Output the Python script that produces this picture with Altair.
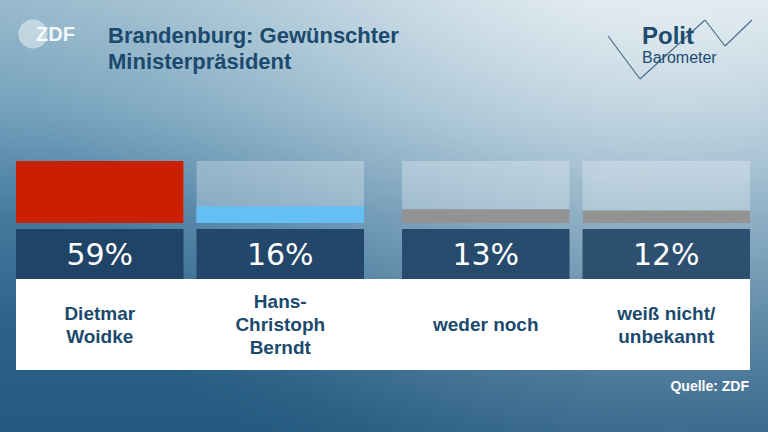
import altair as alt
import pandas as pd

# Umfragewerte: gewünschter Ministerpräsident in Brandenburg
categories = ["Dietmar Woidke", "Hans-Christoph Berndt", "weder noch", "weiß nicht/unbekannt"]
label_lines = ["Dietmar\nWoidke", "Hans-\nChristoph\nBerndt", "weder noch", "weiß nicht/\nunbekannt"]
values = [59, 16, 13, 12]
groups = ["Kandidat", "Kandidat", "Sonstige", "Sonstige"]

title_lines = ["Brandenburg: Gewünschter", "Ministerpräsident"]
source_text = "Quelle: ZDF"

# Stil und Layout
W, H = 768, 432
bar_colors = ["#cc1f00", "#66bff2", "#939393", "#939393"]
box_colors = ["#1f4467", "#22476a", "#274b6d", "#2d5071"]
text_blue = "#1b4a6e"
left, col_w, gap, group_gap = 16, 167.5, 13, 25
bar_top, bar_bottom = 161, 223
label_center, label_lh = 325, 23

df = pd.DataFrame({"Kategorie": categories, "Label": label_lines,
                   "Wert": values, "Gruppe": groups})
idx = pd.Series(range(len(df)))
extra = (df["Gruppe"] != df["Gruppe"].iloc[0]).astype(int) * group_gap
df["x0"] = left + idx * (col_w + gap) + extra
df["x1"] = df["x0"] + col_w
df["xc"] = (df["x0"] + df["x1"]) / 2
df["Prozent"] = df["Wert"].astype(str) + "%"
df["Voll"] = max(values)
n_lines = df["Label"].str.count("\n") + 1
df["ly"] = label_center - (n_lines - 1) / 2 * label_lh

xs = alt.Scale(domain=[0, W], range=[0, W], nice=False, zero=False)
ys = alt.Scale(domain=[0, max(values)], range=[bar_bottom, bar_top], nice=False)
pix_y = alt.Scale(domain=[0, H], range=[0, H], nice=False, zero=False)
one = pd.DataFrame({"k": [0]})

bg = alt.Chart(one).mark_rect(
    color=alt.Gradient(
        gradient="linear", x1=0, y1=0, x2=0, y2=1,
        stops=[alt.GradientStop(offset=0, color="#97b9cc"),
               alt.GradientStop(offset=0.25, color="#74a1bc"),
               alt.GradientStop(offset=0.5, color="#457a9f"),
               alt.GradientStop(offset=0.75, color="#2d6389"),
               alt.GradientStop(offset=1, color="#245a80")])
).encode(x=alt.value(0), x2=alt.value(W), y=alt.value(0), y2=alt.value(H))

glow = alt.Chart(one).mark_rect(
    color=alt.RadialGradient(
        gradient="radial", x1=0.88, y1=-0.05, r1=0, x2=0.88, y2=-0.05, r2=1.0,
        stops=[alt.GradientStop(offset=0, color="rgba(240,244,247,0.97)"),
               alt.GradientStop(offset=0.3, color="rgba(236,242,245,0.85)"),
               alt.GradientStop(offset=0.55, color="rgba(220,232,238,0.5)"),
               alt.GradientStop(offset=0.78, color="rgba(200,218,228,0.2)"),
               alt.GradientStop(offset=0.92, color="rgba(200,218,228,0.04)"),
               alt.GradientStop(offset=1, color="rgba(200,218,228,0)")])
).encode(x=alt.value(0), x2=alt.value(W), y=alt.value(0), y2=alt.value(H))

base = alt.Chart(df)

track = base.mark_rect(color="white", opacity=0.28).encode(
    x=alt.X("x0:Q", scale=xs, axis=None), x2="x1:Q",
    y=alt.Y("Voll:Q", scale=ys, axis=None), y2=alt.datum(0))

bars = base.mark_rect().encode(
    x=alt.X("x0:Q", scale=xs, axis=None), x2="x1:Q",
    y=alt.Y("Wert:Q", scale=ys, axis=None), y2=alt.datum(0),
    color=alt.Color("Kategorie:N", scale=alt.Scale(domain=categories, range=bar_colors), legend=None))

bars_layer = alt.layer(track, bars)

boxes = base.mark_rect().encode(
    x=alt.X("x0:Q", scale=xs, axis=None), x2="x1:Q",
    y=alt.value(229), y2=alt.value(279),
    fill=alt.Fill("Kategorie:N", scale=alt.Scale(domain=categories, range=box_colors), legend=None))

pct = base.mark_text(font="DejaVu Sans", fontSize=30, color="white",
                     align="center", baseline="alphabetic").encode(
    x=alt.X("xc:Q", scale=xs, axis=None), y=alt.value(265), text="Prozent:N")

band = alt.Chart(one).mark_rect(color="white").encode(
    x=alt.value(16), x2=alt.value(750), y=alt.value(279), y2=alt.value(370))

names = base.mark_text(font="Liberation Sans", fontSize=19, fontWeight="bold", color=text_blue,
                       align="center", baseline="middle", lineBreak="\n", lineHeight=label_lh).encode(
    x=alt.X("xc:Q", scale=xs, axis=None),
    y=alt.Y("ly:Q", scale=pix_y, axis=None), text="Label:N")

title1 = alt.Chart(one).mark_text(text=title_lines[0], font="Liberation Sans", fontSize=22, fontWeight="bold",
                                  color=text_blue, align="left", baseline="alphabetic").encode(
    x=alt.value(108), y=alt.value(43))
title2 = alt.Chart(one).mark_text(text=title_lines[1], font="Liberation Sans", fontSize=22, fontWeight="bold",
                                  color=text_blue, align="left", baseline="alphabetic").encode(
    x=alt.value(108), y=alt.value(69))

source = alt.Chart(one).mark_text(text=source_text, font="Liberation Sans", fontSize=14, fontWeight="bold",
                                  color="white", align="right", baseline="alphabetic").encode(
    x=alt.value(749), y=alt.value(391))

# ZDF-Logo
zdf_circle = alt.Chart(one).mark_circle(color="white", opacity=0.45, size=855).encode(
    x=alt.value(33), y=alt.value(34))
zdf_text = alt.Chart(one).mark_text(text="ZDF", font="Liberation Sans", fontSize=20, fontWeight="bold",
                                    color="white", opacity=0.9, align="left", baseline="alphabetic").encode(
    x=alt.value(36), y=alt.value(41))

# Politbarometer-Logo
zigzag = [(608, 36), (640, 79), (705, 20), (725, 46), (752, 20)]
logo_lines = []
for (xa, ya), (xb, yb) in zip(zigzag[:-1], zigzag[1:]):
    logo_lines.append(alt.Chart(one).mark_rule(color="#4d6d8c", strokeWidth=1.2).encode(
        x=alt.value(xa), y=alt.value(ya), x2=alt.value(xb), y2=alt.value(yb)))
polit = alt.Chart(one).mark_text(text="Polit", font="Liberation Sans", fontSize=24, fontWeight="bold",
                                 color="#1d4b71", align="left", baseline="alphabetic").encode(
    x=alt.value(642), y=alt.value(44))
barometer = alt.Chart(one).mark_text(text="Barometer", font="Liberation Sans", fontSize=16,
                                     color="#1d4b71", align="left", baseline="alphabetic").encode(
    x=alt.value(642), y=alt.value(63))

chart = alt.layer(
    bg, glow, *logo_lines, polit, barometer, zdf_circle, zdf_text, title1, title2,
    bars_layer, boxes, pct, band, names, source
).resolve_scale(
    y="independent", color="independent", fill="independent"
).properties(
    width=W, height=H, padding=0, autosize=alt.AutoSizeParams(type="none")
).configure_view(stroke=None)

chart.save("out.html", embed_options={"renderer": "svg", "actions": False})
